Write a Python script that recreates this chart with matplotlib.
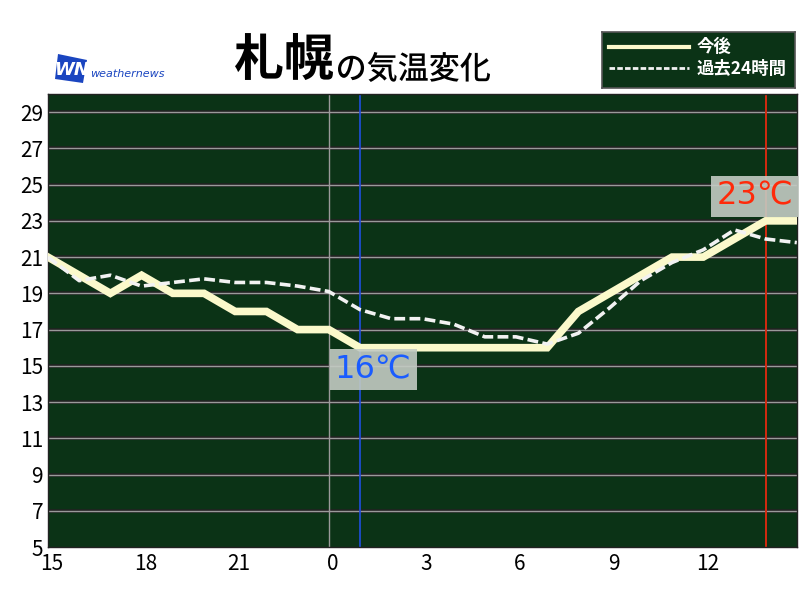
import matplotlib
matplotlib.use("Agg")
import matplotlib.pyplot as plt
import matplotlib.transforms as mtransforms
from matplotlib.patches import Polygon, PathPatch
from matplotlib.textpath import TextPath
from matplotlib.font_manager import FontProperties
import numpy as np

plt.rcParams['font.family'] = ['Noto Sans CJK JP', 'DejaVu Sans']

# --- Data ---
hour_labels = ["15", "18", "21", "0", "3", "6", "9", "12"]
# forecast (今後), hourly from 15h
forecast = [21, 20, 19, 20, 19, 19, 18, 18, 17, 17, 16, 16, 16, 16, 16, 16, 16,
            18, 19, 20, 21, 21, 22, 23, 23]
# past 24 hours (過去24時間)
past = [21, 19.7, 20.0, 19.4, 19.6, 19.8, 19.6, 19.6, 19.4, 19.1, 18.1, 17.6, 17.6,
        17.3, 16.6, 16.6, 16.2, 16.8, 18.2, 19.7, 20.7, 21.4, 22.5, 22.0, 21.8]
min_idx, min_val = 10, 16
max_idx, max_val = 23, 23
midnight_idx = 9

BG = '#0b3316'
FUTURE_C = '#fbf9cb'
PAST_C = '#f2f2f2'

fig = plt.figure(figsize=(8, 6), dpi=100)
ax = fig.add_axes([0.06, 0.0883, 0.936, 0.755])
ax.set_facecolor(BG)

x = np.arange(len(forecast))
ax.set_xlim(0, len(forecast) - 1)
ax.set_ylim(5, 30)

# horizontal grid
for yv in range(7, 30, 2):
    ax.axhline(yv, color='#222222', lw=2.6, zorder=1)
    ax.axhline(yv, color='#9a9a9a', lw=1.0, zorder=1.1)

ax.axvline(midnight_idx, color='#9a9a9a', lw=1.0, zorder=1.2)
ax.axvline(min_idx, color='#1f4fe0', lw=1.2, zorder=1.2)
ax.axvline(max_idx, color='#d42a10', lw=1.4, zorder=1.2)

ax.plot(x, forecast, color=FUTURE_C, lw=5.5, solid_joinstyle='miter', zorder=3)
ax.plot(x, past, color=PAST_C, lw=2.6, ls=(0, (3, 1.2)), zorder=4)

ax.set_yticks(range(5, 30, 2))
ax.set_xticks(range(0, len(forecast) - 1, 3))
ax.set_xticklabels(hour_labels)
ax.tick_params(length=0, labelsize=15, colors='black')
ax.tick_params(axis='x', pad=4)
for lbl in ax.get_xticklabels():
    lbl.set_transform(lbl.get_transform() +
                      mtransforms.ScaledTranslation(0.04, 0, fig.dpi_scale_trans))
for s in ax.spines.values():
    s.set_color('#222222')
    s.set_linewidth(1.0)

box = dict(boxstyle='square,pad=0.16', fc='#c3cbc3', ec='none', alpha=0.9)
ax.annotate(f"{min_val}℃", xy=(min_idx, min_val), xytext=(min_idx + 0.42, min_val - 1.22),
            ha='center', va='center', fontsize=23, color='#1a5cff', bbox=box,
            family='DejaVu Sans', zorder=6)
ax.annotate(f"{max_val}℃", xy=(max_idx, max_val), xytext=(max_idx - 0.34, max_val + 1.36),
            ha='center', va='center', fontsize=23, color='#ff2a0a', bbox=box,
            family='DejaVu Sans', zorder=6)


def put_text_box(s, weight, x0, x1, ytop, ybot):
    # draw text as a path stretched into a pixel box (image coords, y down)
    tp = TextPath((0, 0), s, size=1, prop=FontProperties(family='Noto Sans CJK JP', weight=weight))
    ext = tp.get_extents()
    sx = (x1 - x0) / ext.width
    sy = (ybot - ytop) / ext.height
    tr = (mtransforms.Affine2D().translate(-ext.x0, -ext.y0).scale(sx / 100, sy / 100)
          .translate(x0 / 100, (600 - ybot) / 100) + fig.dpi_scale_trans)
    fig.patches.append(PathPatch(tp, transform=tr, fc='black', ec='none'))


# title
put_text_box("札幌", 'bold', 235, 333, 33, 80)
put_text_box("の気温変化", 'medium', 338, 490, 52, 82)

# logo
logo_px = [(58, 54), (87, 60), (83, 83), (55, 79)]
logo = Polygon([(px / 800, 1 - py / 600) for px, py in logo_px], closed=True,
               transform=fig.transFigure, fc='#1a45c0', ec='none')
fig.patches.append(logo)
fig.text(0.0895, 0.883, "WN", fontsize=13, fontweight='bold', style='italic',
         color='white', ha='center', va='center', family='DejaVu Sans')
fig.text(0.113, 0.876, "weathernews", fontsize=8, style='italic',
         color='#1a45c0', ha='left', va='center', family='DejaVu Sans')

# legend box
lax = fig.add_axes([0.752, 0.853, 0.242, 0.094])
lax.set_facecolor(BG)
lax.set_xlim(0, 1)
lax.set_ylim(0, 1)
lax.set_xticks([])
lax.set_yticks([])
for s in lax.spines.values():
    s.set_color('#555555')
    s.set_linewidth(1.2)
lax.plot([0.04, 0.45], [0.73, 0.73], color=FUTURE_C, lw=3)
lax.plot([0.04, 0.45], [0.36, 0.36], color=PAST_C, lw=2, ls=(0, (2, 0.8)))
lax.text(0.49, 0.73, "今後", color='white', fontsize=12.5, fontweight='bold', va='center')
lax.text(0.49, 0.34, "過去24時間", color='white', fontsize=12.5, fontweight='bold', va='center')

plt.savefig('out.png', dpi=100)
